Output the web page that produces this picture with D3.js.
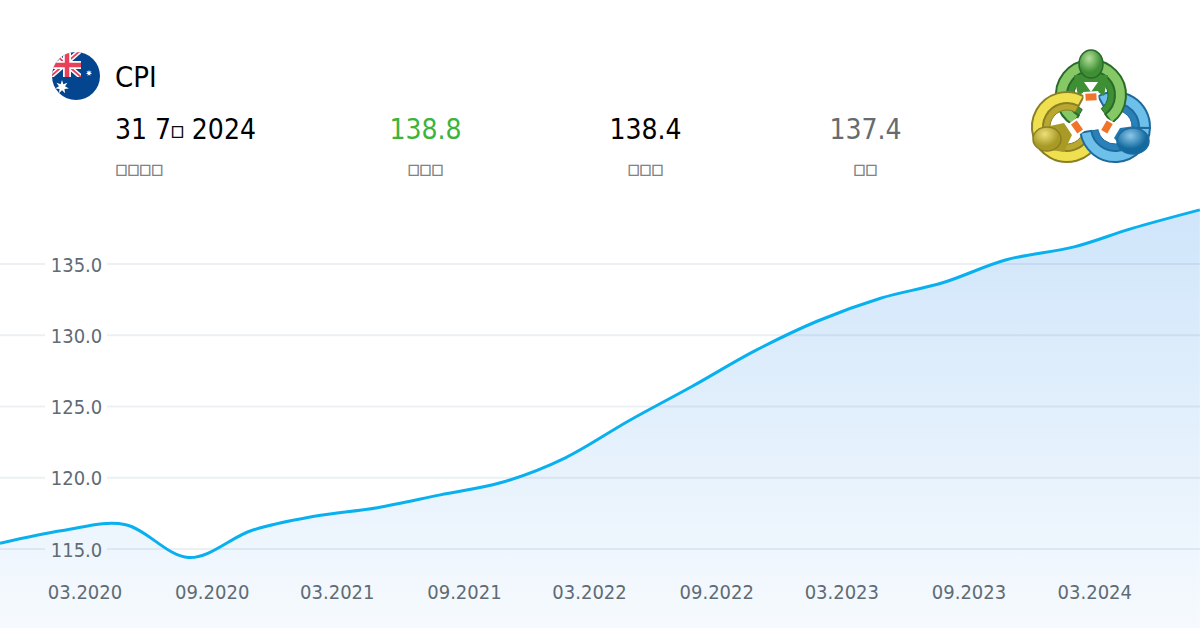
<!DOCTYPE html>
<html lang="zh">
<head>
    <meta charset="UTF-8">
    <title>CPI</title>
    <style>
        html, body { margin: 0; padding: 0; background: #fff; overflow: hidden; }
        svg { display: block; }
        text { font-family: "DejaVu Sans", sans-serif; font-stretch: condensed; }
        .tick-label { font-size: 20px; fill: #5f6b75; }
        .grid { stroke: #3c5a78; stroke-opacity: 0.09; stroke-width: 2px; }
        .line { fill: none; stroke: #08b0f0; stroke-width: 3px; }
    </style>
    <script src="https://d3js.org/d3.v7.min.js"></script>
</head>
<body>
<script>
    // release dates and values of the index
    const releaseDates = ["2019-10-30", "2020-01-29", "2020-04-29", "2020-07-29", "2020-10-28", "2021-01-27",
        "2021-04-28", "2021-07-28", "2021-10-27", "2022-01-25", "2022-04-27", "2022-07-27", "2022-10-26",
        "2023-01-25", "2023-04-26", "2023-07-26", "2023-10-25", "2024-01-31", "2024-04-24", "2024-07-31"];
    const cpiValues = [115.4, 116.3, 116.7, 114.4, 116.3, 117.3, 117.9, 118.8, 119.7, 121.4,
        124.0, 126.4, 128.9, 131.0, 132.6, 133.7, 135.3, 136.2, 137.5, 138.8];
    const yTicks = [115, 120, 125, 130, 135];
    const xTicks = ["2020-03-01", "2020-09-01", "2021-03-01", "2021-09-01", "2022-03-01", "2022-09-01",
        "2023-03-01", "2023-09-01", "2024-03-01"];
    const headerValues = ["138.8", "138.4", "137.4"];
    const headerLabels = ["\u25A1\u25A1\u25A1\u25A1", "\u25A1\u25A1\u25A1", "\u25A1\u25A1\u25A1", "\u25A1\u25A1"];

    const width = 1200, height = 628;
    const parse = d3.utcParse("%Y-%m-%d");
    const data = releaseDates.map((d, i) => ({date: parse(d), value: cpiValues[i]}));

    const svg = d3.select("body").append("svg")
        .attr("width", width)
        .attr("height", height)
        .attr("viewBox", `0 0 ${width} ${height}`);

    const defs = svg.append("defs");
    const vGrad = (id, y1, y2, c0, c1) => {
        const g = defs.append("linearGradient").attr("id", id)
            .attr("gradientUnits", "userSpaceOnUse")
            .attr("x1", 0).attr("y1", y1).attr("x2", 0).attr("y2", y2);
        g.append("stop").attr("offset", 0).attr("stop-color", c0);
        g.append("stop").attr("offset", 1).attr("stop-color", c1);
    };
    vGrad("areaFill", 210, 628, "#cfe5fa", "#f6fafe");

    // scales pinned to the 03.2020 and 03.2024 labels, 115 and 135 gridlines
    const x = d3.scaleUtc()
        .domain([parse("2020-03-01"), parse("2024-03-01")])
        .range([85, 1094.8]);
    const y = d3.scaleLinear()
        .domain([115, 135])
        .range([549, 264]);

    const area = d3.area()
        .x(d => x(d.date))
        .y0(height)
        .y1(d => y(d.value))
        .curve(d3.curveCardinal.tension(0));
    const line = d3.line()
        .x(d => x(d.date))
        .y(d => y(d.value))
        .curve(d3.curveCardinal.tension(0));

    svg.append("path").datum(data).attr("d", area).attr("fill", "url(#areaFill)");

    // gridlines, broken where the label sits
    const yAxis = svg.append("g");
    yTicks.forEach(t => {
        yAxis.append("line").attr("class", "grid")
            .attr("x1", 0).attr("x2", 45).attr("y1", y(t)).attr("y2", y(t));
        yAxis.append("line").attr("class", "grid")
            .attr("x1", 107).attr("x2", width).attr("y1", y(t)).attr("y2", y(t));
        yAxis.append("text").attr("class", "tick-label")
            .attr("x", 76.5).attr("y", y(t) + 7.5)
            .attr("text-anchor", "middle")
            .text(t.toFixed(1));
    });

    svg.append("path").datum(data).attr("class", "line").attr("d", line);

    const xAxis = svg.append("g");
    xTicks.forEach(t => {
        const date = parse(t);
        xAxis.append("text").attr("class", "tick-label")
            .attr("x", x(date)).attr("y", 599)
            .attr("text-anchor", "middle")
            .text(d3.utcFormat("%m.%Y")(date));
    });

    // header
    svg.append("text").attr("x", 115).attr("y", 87)
        .attr("font-size", 29).attr("fill", "#000").text("CPI");

    const dateText = svg.append("text").attr("x", 115).attr("y", 139)
        .attr("font-size", 28).attr("fill", "#000");
    dateText.append("tspan").text("31 7");
    dateText.append("tspan").attr("font-size", 15).attr("stroke", "#000").attr("stroke-width", 0.5)
        .attr("dy", -3).text("\u25A1");
    dateText.append("tspan").attr("dy", 3).text(" 2024");

    const columns = [
        {x: 425.5, color: "#3cb43c"},
        {x: 645.5, color: "#000"},
        {x: 865.5, color: "#666b70"}
    ];
    columns.forEach((c, i) => {
        svg.append("text").attr("x", c.x).attr("y", 139)
            .attr("text-anchor", "middle")
            .attr("font-size", 28).attr("fill", c.color)
            .text(headerValues[i]);
    });
    [115.5, 425.5, 645.5, 865.5].forEach((px, i) => {
        svg.append("text").attr("x", px).attr("y", 174)
            .attr("text-anchor", i ? "middle" : "start")
            .attr("font-size", 14).attr("fill", "#808080")
            .attr("stroke", "#808080").attr("stroke-width", 0.5)
            .text(headerLabels[i]);
    });

    // flag
    defs.append("clipPath").attr("id", "flagClip")
        .append("circle").attr("cx", 76).attr("cy", 76).attr("r", 24);
    defs.append("clipPath").attr("id", "cantonClip")
        .append("rect").attr("x", 50).attr("y", 50).attr("width", 31).attr("height", 27);
    const flag = svg.append("g").attr("clip-path", "url(#flagClip)");
    flag.append("rect").attr("x", 52).attr("y", 52).attr("width", 48).attr("height", 48).attr("fill", "#03468f");
    const canton = flag.append("g").attr("clip-path", "url(#cantonClip)");
    canton.append("path").attr("d", "M50 50L81 77M81 50L50 77").attr("stroke", "#fff").attr("stroke-width", 5);
    canton.append("path").attr("d", "M50 50L81 77M81 50L50 77").attr("stroke", "#e8405a").attr("stroke-width", 1.8);
    canton.append("path").attr("d", "M67 50V77M50 65H81").attr("stroke", "#fff").attr("stroke-width", 8);
    canton.append("path").attr("d", "M67 50V77M50 65H81").attr("stroke", "#e8405a").attr("stroke-width", 4.5);
    const sevenStar = (cx, cy, r) => {
        const pts = d3.range(14).map(i => [i * Math.PI / 7, i % 2 ? r * 0.45 : r]);
        flag.append("path").attr("d", d3.lineRadial().curve(d3.curveLinearClosed)(pts))
            .attr("transform", `translate(${cx},${cy})`).attr("fill", "#fff");
    };
    sevenStar(62, 87, 7);
    sevenStar(89, 73, 3.2);

    // logo: three figures on interlocking rings, a bright outer band over a darker inner one
    vGrad("gRing", 55, 135, "#86c866", "#2f8030");
    vGrad("yRing", 92, 165, "#f0e050", "#a89a25");
    vGrad("bRing", 92, 165, "#6cc0ea", "#1a78b4");
    const logo = svg.append("g");
    const ring = (cx, cy, a0, a1, fill, inner, edge) => {
        const g = logo.append("g").attr("transform", `translate(${cx},${cy})`);
        g.append("path")
            .attr("d", d3.arc().innerRadius(17).outerRadius(25).startAngle(a0).endAngle(a1)())
            .attr("fill", inner).attr("stroke", edge);
        g.append("path")
            .attr("d", d3.arc().innerRadius(24).outerRadius(35).startAngle(a0).endAngle(a1)())
            .attr("fill", fill).attr("stroke", edge).attr("stroke-width", 2);
    };
    const body = (pts, fill) => {
        logo.append("path").attr("d", d3.line().curve(d3.curveLinearClosed)(pts)).attr("fill", fill);
    };
    const head = (cx, cy, rx, ry, id, c0, c1, edge) => {
        const g = defs.append("radialGradient").attr("id", id).attr("cx", 0.42).attr("cy", 0.3);
        g.append("stop").attr("offset", 0).attr("stop-color", c0);
        g.append("stop").attr("offset", 1).attr("stop-color", c1);
        logo.append("ellipse").attr("cx", cx).attr("cy", cy).attr("rx", rx).attr("ry", ry)
            .attr("fill", `url(#${id})`).attr("stroke", edge).attr("stroke-width", 1.5);
    };
    ring(1115, 127, -0.5, 1.6, "url(#bRing)", "#2a80b8", "#1f6a9c");
    ring(1091, 95, -2.6, 2.5, "url(#gRing)", "#3f8f35", "#2a6a2a");
    body([[1074, 75], [1108, 75], [1104, 96], [1098, 92], [1084, 92], [1078, 96]], "#3f8f35");
    body([[1084, 82], [1098, 82], [1091, 92]], "#fff");
    ring(1067, 127, -4.2, 0.5, "url(#yRing)", "#b8a830", "#8a7f25");
    body([[1050, 126], [1064, 123], [1072, 135], [1064, 152], [1050, 150]], "#a89a25");
    ring(1115, 127, 1.6, 4.55, "url(#bRing)", "#2a80b8", "#1f6a9c");
    body([[1120, 128], [1135, 126], [1140, 134], [1122, 148], [1114, 138]], "#1f78b0");
    head(1091, 64, 12, 14, "hG", "#b4e09a", "#3f8f35", "#2a6a2a");
    head(1047, 139, 14, 12, "hY", "#eee07a", "#a89a25", "#8a7f25");
    head(1133, 141, 16, 13, "hB", "#8cc8ea", "#136a9f", "#1f6a9c");
    [[1091, 97, -3], [1077, 127, 55], [1107, 127, -60]].forEach(([cx, cy, r]) => {
        logo.append("rect").attr("x", cx - 6.5).attr("y", cy - 4.5).attr("width", 13).attr("height", 9)
            .attr("transform", `rotate(${r},${cx},${cy})`)
            .attr("fill", "#f0742a").attr("stroke", "#fff").attr("stroke-width", 2);
    });
</script>
</body>
</html>
